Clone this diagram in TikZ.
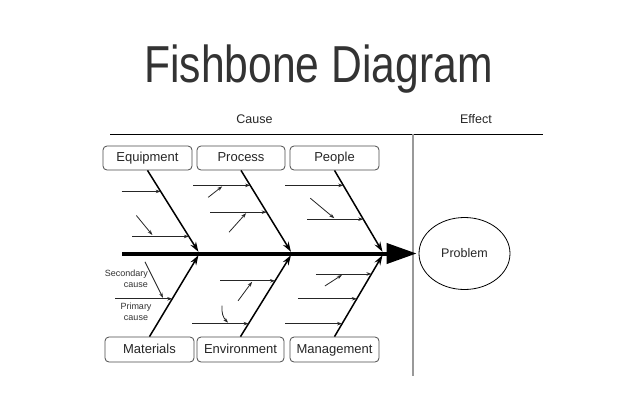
\documentclass[tikz,border=0pt]{standalone}
\usepackage{fontspec}
\setmainfont{Liberation Sans}
\newfontfamily\titlefont[FakeStretch=0.82]{Liberation Sans}
\usetikzlibrary{arrows.meta,calc,shapes.geometric}
\begin{document}
\begin{tikzpicture}[x=1pt,y=-1pt,
  box/.style={draw=black!70, rounded corners=4pt, minimum width=89pt, minimum height=24pt, inner sep=0pt, font=\fontsize{13}{13}\selectfont, line width=0.8pt, text=black!85, text height=9.5pt, text depth=2.5pt},
  bone/.style={line width=1.5pt, -{Stealth[length=10pt,width=6.5pt]}, shorten >=2pt},
  prim/.style={line width=0.8pt, draw=black!85, -{Stealth[length=5pt,width=3.5pt]}},
  sec/.style={line width=0.8pt, draw=black!85, -{Stealth[length=5pt,width=3.5pt]}},
  lab/.style={font=\fontsize{9}{11}\selectfont, inner sep=0pt, text=black!80},
  hdr/.style={font=\fontsize{12.5}{13}\selectfont, text=black!85}
]
\useasboundingbox (0,0) rectangle (640,418);
\fill[white] (0,0) rectangle (640,418);

% title and headers
\node[font=\titlefont\fontsize{52}{52}\selectfont, text=black!80, anchor=base] (title) at (318.5,82) {Fishbone Diagram};
\node[hdr] (cause) at (254.5,119) {Cause};
\node[hdr] (effect) at (476,119) {Effect};
\coordinate (hl) at (110,134);
\coordinate (hr) at (543,134);
\draw[line width=1pt] (hl) -- (hr);
\coordinate (vt) at (413,134);
\coordinate (vb) at (413,376);
\draw[line width=1.5pt, black!40] (vt) -- (vb);

% boxes
\node[box] (eq) at (147.5,158) {Equipment};
\node[box, minimum width=88pt] (pr) at (241,158) {Process};
\node[box] (pe) at (334.5,158) {People};
\node[box, minimum height=25pt] (ma) at (149.5,349.5) {Materials};
\node[box, minimum height=25pt, minimum width=87pt] (en) at (240.5,349.5) {Environment};
\node[box, minimum height=25pt] (mg) at (334.5,349.5) {Management};

% effect
\node[draw, ellipse, minimum width=91pt, minimum height=72pt, line width=0.8pt, font=\fontsize{12.5}{13}\selectfont, text=black!85] (prob) at (464.5,253.5) {Problem};

% spine
\coordinate (tail) at (122,253.5);
\coordinate (j1) at (199.5,253.5);
\coordinate (j2) at (292,253.5);
\coordinate (j3) at (383.5,253.5);
\draw[line width=4pt, -{Triangle[length=30pt,width=20pt]}, shorten >=2pt] (tail) -- (prob.west);

% bones
\draw[bone] (eq.south) -- (j1) coordinate[pos=.253] (eqa) coordinate[pos=.795] (eqb);
\draw[bone] (pr.south) -- (j2) coordinate[pos=.18] (pra) coordinate[pos=.503] (prb);
\draw[bone] (pe.south) -- (j3) coordinate[pos=.18] (pea) coordinate[pos=.587] (peb);
\draw[bone] (ma.north) -- (j1) coordinate[pos=.455] (maa);
\draw[bone] (en.north) -- (j2) coordinate[pos=.671] (ena) coordinate[pos=.156] (enb);
\draw[bone] (mg.north) -- (j3) coordinate[pos=.754] (mga) coordinate[pos=.455] (mgb) coordinate[pos=.156] (mgc);

% primary causes
\draw[prim] ([xshift=-39pt]eqa) -- (eqa);
\draw[prim] ([xshift=-56.5pt]eqb) -- (eqb);
\draw[prim] ([xshift=-57pt]pra) -- (pra);
\draw[prim] ([xshift=-56.6pt]prb) -- (prb);
\draw[prim] ([xshift=-58pt]pea) -- (pea);
\draw[prim] ([xshift=-56pt]peb) -- (peb);
\draw[prim] ([xshift=-57pt]maa) -- (maa);
\draw[prim] ([xshift=-55pt]ena) -- (ena);
\draw[prim] ([xshift=-56.5pt]enb) -- (enb);
\draw[prim] ([xshift=-55.5pt]mga) -- (mga);
\draw[prim] ([xshift=-59pt]mgb) -- (mgb);
\draw[prim] ([xshift=-57pt]mgc) -- (mgc);

% secondary causes
\draw[sec] ([shift={(-52.5,-21)}]eqb) -- ([shift={(-36.5,-1.5)}]eqb);
\draw[sec] ([shift={(-42,12)}]pra) -- ([shift={(-28,1)}]pra);
\draw[sec] ([shift={(-37.6,20)}]prb) -- ([shift={(-20.6,1)}]prb);
\draw[sec] ([shift={(-53,-21)}]peb) -- ([shift={(-29,-1)}]peb);
\draw[sec] ([shift={(-27.3,-37)}]maa) -- ([shift={(-9.3,-1)}]maa);
\draw[sec] ([shift={(-37,20)}]ena) -- ([shift={(-23,1)}]ena);
\draw[sec] ([shift={(-26.5,-18)}]enb) to[bend right=25] ([shift={(-20.5,-1)}]enb);
\draw[sec] ([shift={(-46.5,12)}]mga) -- ([shift={(-29.5,1)}]mga);

% legend labels
\node[lab, align=right, anchor=east] (seclab) at (148,278.5) {Secondary\\cause};
\node[lab, align=center] (primlab) at (136,311.5) {Primary\\cause};
\end{tikzpicture}
\end{document}
